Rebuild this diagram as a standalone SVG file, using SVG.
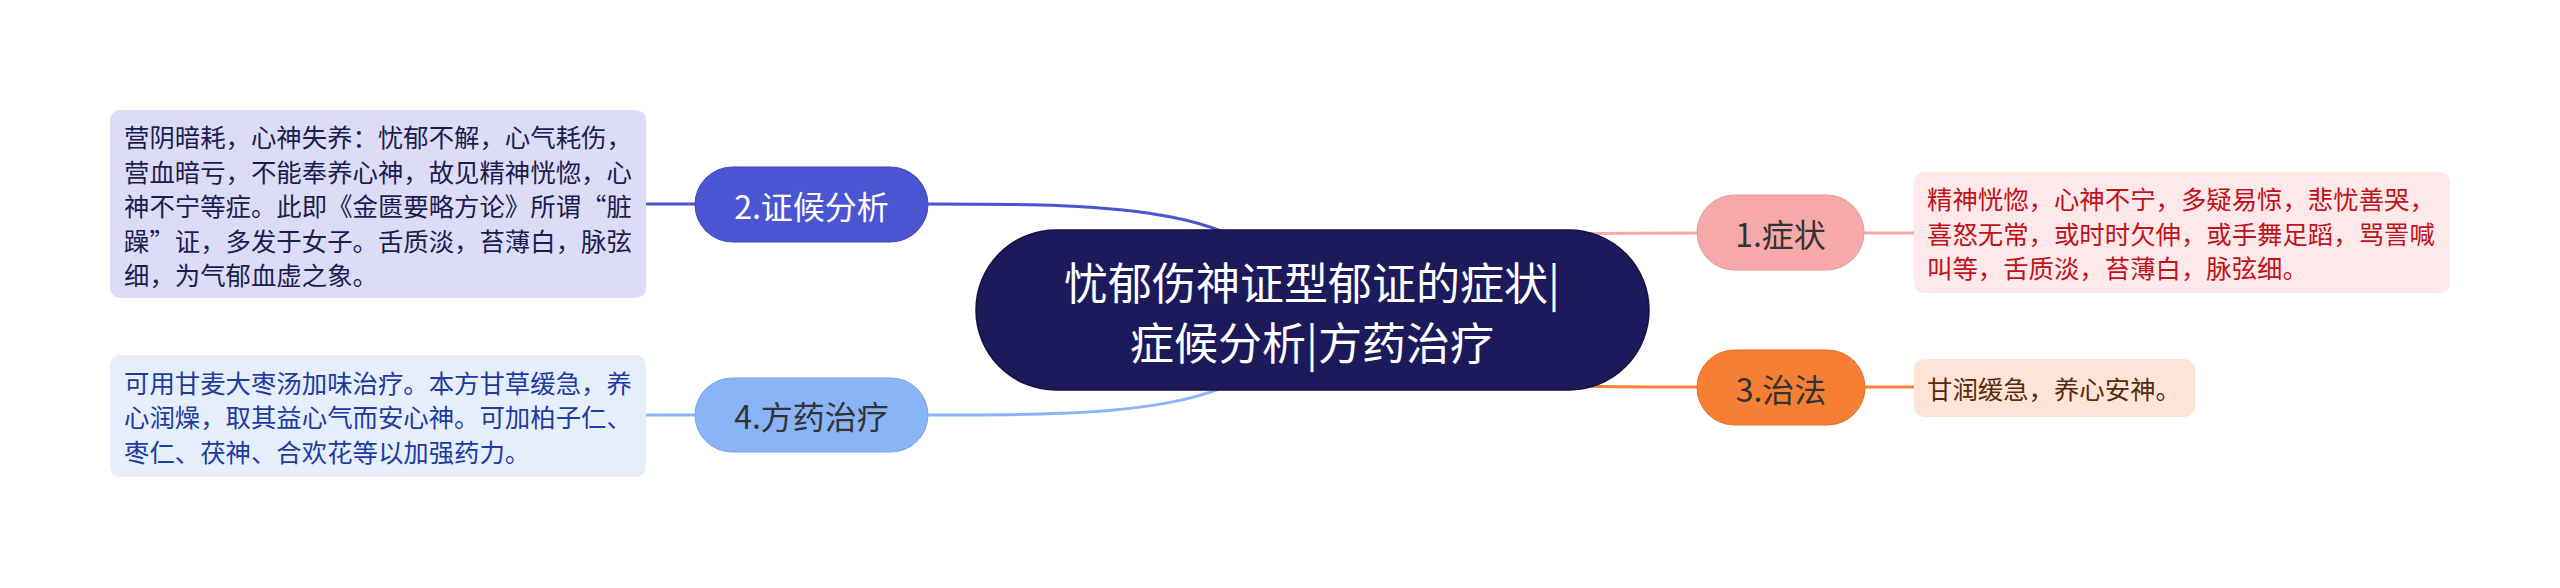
<svg xmlns="http://www.w3.org/2000/svg" width="2560" height="588" viewBox="0 0 2560 588">
<style>
text{font-family:"Noto Sans CJK SC","Noto Sans",sans-serif;dominant-baseline:central}
.lbl{font-size:32px;text-anchor:middle}
.det{font-size:25.4px}
.conn{fill:none;stroke-width:3}
</style>
<rect width="2560" height="588" fill="#ffffff"/>
<g id="connectors">
<path class="conn" stroke="#4b55d2" d="M928 204 C1120 204 1260 204 1312 310"/>
<path class="conn" stroke="#8ab4f8" d="M928 415 C1120 415 1260 415 1312 310"/>
<path class="conn" stroke="#f7a8a8" d="M1697 233 C1505 233 1365 233 1312 310"/>
<path class="conn" stroke="#f77f34" d="M1697 387 C1505 387 1365 387 1312 310"/>
<path class="conn" stroke="#4b55d2" d="M646 204 H695"/>
<path class="conn" stroke="#8ab4f8" d="M646 415 H695"/>
<path class="conn" stroke="#f7a8a8" d="M1864 233 H1914"/>
<path class="conn" stroke="#f77f34" d="M1865 387 H1914"/>
</g>
<g id="root">
<rect x="976" y="230" width="673" height="160" rx="80" fill="#1d1a5c" stroke="#131040" stroke-width="1.5"/>
<text x="1312" y="281" font-size="44" text-anchor="middle" fill="#ffffff">忧郁伤神证型郁证的症状|</text>
<text x="1312" y="341" font-size="44" text-anchor="middle" fill="#ffffff">症候分析|方药治疗</text>
</g>
<g id="n2">
<rect x="695" y="167" width="233" height="75" rx="37.5" fill="#4b55d2" stroke="#3d47b8" stroke-width="1"/>
<text class="lbl" x="811.5" y="204.5" fill="#ffffff">2.证候分析</text>
</g>
<g id="n2d">
<rect x="110" y="110" width="536" height="188" rx="10" fill="#dcdcf6"/>
<text class="det" fill="#1c1c50">
<tspan x="124" y="136">营阴暗耗，心神失养：忧郁不解，心气耗伤，</tspan>
<tspan x="124" y="170.5">营血暗亏，不能奉养心神，故见精神恍惚，心</tspan>
<tspan x="124" y="205">神不宁等症。此即《金匮要略方论》所谓“脏</tspan>
<tspan x="124" y="239.5">躁”证，多发于女子。舌质淡，苔薄白，脉弦</tspan>
<tspan x="124" y="274">细，为气郁血虚之象。</tspan>
</text>
</g>
<g id="n4">
<rect x="695" y="378" width="233" height="74" rx="37" fill="#8ab4f8" stroke="#7aa4e8" stroke-width="1"/>
<text class="lbl" x="811.5" y="415" fill="#333333">4.方药治疗</text>
</g>
<g id="n4d">
<rect x="110" y="355" width="536" height="122" rx="10" fill="#e6eefc"/>
<text class="det" fill="#1e3c9e">
<tspan x="124" y="381.5">可用甘麦大枣汤加味治疗。本方甘草缓急，养</tspan>
<tspan x="124" y="416">心润燥，取其益心气而安心神。可加柏子仁、</tspan>
<tspan x="124" y="450.5">枣仁、茯神、合欢花等以加强药力。</tspan>
</text>
</g>
<g id="n1">
<rect x="1697" y="195" width="167" height="75" rx="37.5" fill="#f7a8a8" stroke="#e89898" stroke-width="1"/>
<text class="lbl" x="1780.5" y="232.5" fill="#333333">1.症状</text>
</g>
<g id="n1d">
<rect x="1914" y="172" width="536" height="121" rx="10" fill="#fde9e9"/>
<text class="det" fill="#c0121a">
<tspan x="1927" y="198">精神恍惚，心神不宁，多疑易惊，悲忧善哭，</tspan>
<tspan x="1927" y="232.5">喜怒无常，或时时欠伸，或手舞足蹈，骂詈喊</tspan>
<tspan x="1927" y="267">叫等，舌质淡，苔薄白，脉弦细。</tspan>
</text>
</g>
<g id="n3">
<rect x="1697" y="350" width="168" height="75" rx="37.5" fill="#f77f34" stroke="#e06e28" stroke-width="1"/>
<text class="lbl" x="1781" y="387.5" fill="#333333">3.治法</text>
</g>
<g id="n3d">
<rect x="1914" y="359" width="281" height="58" rx="10" fill="#fde4d6"/>
<text class="det" x="1927" y="388" fill="#5a2a0c">甘润缓急，养心安神。</text>
</g>
</svg>
